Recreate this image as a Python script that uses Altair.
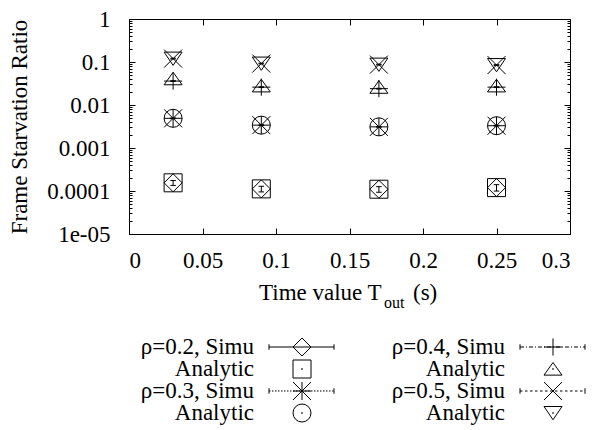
import altair as alt
import pandas as pd

# ------------------------------------------------------------------ data
T_OUT = [0.03, 0.09, 0.17, 0.25]

SIMU_02 = [1.55e-4, 1.12e-4, 1.10e-4, 1.20e-4]
ANA_02 = [1.55e-4, 1.12e-4, 1.10e-4, 1.20e-4]
ERR_02 = [0.13, 0.15, 0.15, 0.17]  # relative half-width of the simulation interval

SIMU_03 = [0.0049, 0.0034, 0.0031, 0.0033]
ANA_03 = [0.0049, 0.0034, 0.0031, 0.0033]
ERR_03 = [0.02, 0.02, 0.02, 0.02]

SIMU_04 = [0.036, 0.026, 0.024, 0.026]
ANA_04 = [0.041, 0.028, 0.026, 0.028]
ERR_04 = [0.02, 0.02, 0.02, 0.02]

SIMU_05 = [0.120, 0.092, 0.087, 0.085]
ANA_05 = [0.120, 0.092, 0.087, 0.085]
ERR_05 = [0.02, 0.02, 0.02, 0.02]

RHOS = ["0.2", "0.3", "0.4", "0.5"]
SIMU_MARKERS = ["diamond", "asterisk", "plus", "cross"]
ANA_MARKERS = ["square", "circle", "tri-up", "tri-down"]

X_TICKS = [0, 0.05, 0.1, 0.15, 0.2, 0.25, 0.3]
Y_TICKS = [1, 0.1, 0.01, 0.001, 0.0001, 0.00001]
Y_TICK_LABELS = ["1", "0.1", "0.01", "0.001", "0.0001", "1e-05"]
Y_MINOR = [m * 10.0 ** e for e in range(-5, 0) for m in range(2, 10)]

LEGEND_LABELS = ["ρ=0.2, Simu", "Analytic", "ρ=0.3, Simu", "Analytic",
                 "ρ=0.4, Simu", "Analytic", "ρ=0.5, Simu", "Analytic"]

# ------------------------------------------------------------------ style
FONT = "Liberation Serif, Times New Roman, Times, serif"
FS = 23
PLOT_W = 441
PLOT_H = 215

SHAPE_DOMAIN = ["diamond", "square", "asterisk", "circle", "plus", "tri-up", "cross", "tri-down"]
SHAPE_RANGE = [
    "diamond",
    "square",
    "M-1,0L1,0M0,-1L0,1M-1,-1L1,1M-1,1L1,-1",
    "circle",
    "M-1,0L1,0M0,-0.95L0,0.95",
    "M0,-0.72L1,0.68L-1,0.68Z",
    "M-1,-1L1,1M-1,1L1,-1",
    "M-1,-0.72L1,-0.72L0,0.75Z",
]
DASHES = [[1, 0], [1.5, 1.5], [4, 2, 1, 2], [2.5, 2.5]]

# ------------------------------------------------------------------ tables
sim_rows, ana_rows = [], []
series = [(RHOS[0], SIMU_02, ANA_02, ERR_02), (RHOS[1], SIMU_03, ANA_03, ERR_03),
          (RHOS[2], SIMU_04, ANA_04, ERR_04), (RHOS[3], SIMU_05, ANA_05, ERR_05)]
for i, (rho, sv, av, ev) in enumerate(series):
    for t, s, a, e in zip(T_OUT, sv, av, ev):
        sim_rows.append({"t": t, "v": s, "lo": s * (1 - e), "hi": s * (1 + e),
                         "marker": SIMU_MARKERS[i], "rho": rho})
        ana_rows.append({"t": t, "v": a, "marker": ANA_MARKERS[i], "rho": rho})
sim_df = pd.DataFrame(sim_rows)
ana_df = pd.DataFrame(ana_rows)

leg_rows = []
for k, lab in enumerate(LEGEND_LABELS):
    ser = k // 2
    leg_rows.append({"label": lab, "col": ser // 2, "row": (ser % 2) * 2 + k % 2,
                     "simu": k % 2 == 0,
                     "marker": SIMU_MARKERS[ser] if k % 2 == 0 else ANA_MARKERS[ser],
                     "rho": RHOS[ser]})
leg_df = pd.DataFrame(leg_rows)

# ------------------------------------------------------------------ scales / axes
xs = alt.Scale(domain=[0, 0.3], nice=False, zero=False)
ys = alt.Scale(type="log", domain=[1e-5, 1], nice=False)
shape_scale = alt.Scale(domain=SHAPE_DOMAIN, range=SHAPE_RANGE)

label_expr = " : ".join(
    f"datum.value > {v / 2} ? '{l}'" for v, l in zip(Y_TICKS[:-1], Y_TICK_LABELS[:-1])
) + f" : '{Y_TICK_LABELS[-1]}'"

ax_bottom = alt.Axis(orient="bottom", values=X_TICKS, format="~g", offset=-6, tickSize=6,
                     labelPadding=15, title=None)
ax_top = alt.Axis(orient="top", values=X_TICKS, offset=-6, tickSize=6, labels=False, title=None)
ay_left = alt.Axis(orient="left", values=Y_TICKS, labelExpr=label_expr, offset=-6, tickSize=6,
                   labelPadding=19, title="Frame Starvation Ratio", titlePadding=15)
ay_left_minor = alt.Axis(orient="left", values=Y_MINOR, offset=-3, tickSize=3, labels=False, title=None)
ay_right = alt.Axis(orient="right", values=Y_TICKS, offset=-6, tickSize=6, labels=False, title=None)
ay_right_minor = alt.Axis(orient="right", values=Y_MINOR, offset=-3, tickSize=3, labels=False, title=None)

# ------------------------------------------------------------------ main plot
err_rule = alt.Chart(sim_df).mark_rule(color="black", strokeWidth=1).encode(
    x=alt.X("t:Q", scale=xs, axis=ax_bottom),
    y=alt.Y("lo:Q", scale=ys, axis=ay_left),
    y2="hi:Q",
)
err_caps = alt.Chart(sim_df).transform_fold(["lo", "hi"], as_=["end", "ev"]).mark_point(
    shape="M-1,0L1,0", size=30, filled=False, color="black", strokeWidth=1, opacity=1
).encode(
    x=alt.X("t:Q", scale=xs, axis=ax_top),
    y=alt.Y("ev:Q", scale=ys, axis=ay_left_minor),
)
sim_pts = alt.Chart(sim_df).mark_point(filled=False, size=324, color="black", strokeWidth=1, opacity=1).encode(
    x=alt.X("t:Q", scale=xs, axis=None),
    y=alt.Y("v:Q", scale=ys, axis=ay_right),
    shape=alt.Shape("marker:N", scale=shape_scale, legend=None),
)
ana_pts = alt.Chart(ana_df).mark_point(filled=False, size=324, color="black", strokeWidth=1, opacity=1).encode(
    x=alt.X("t:Q", scale=xs, axis=None),
    y=alt.Y("v:Q", scale=ys, axis=ay_right_minor),
    shape=alt.Shape("marker:N", scale=shape_scale, legend=None),
)
main = alt.layer(err_rule, err_caps, sim_pts, ana_pts).resolve_axis(x="independent", y="independent")

# ------------------------------------------------------------------ legend (key below the plot)
COL_STEP = 251
TEXT_END = 125
LINE_START = 140
LINE_END = 205
MARK_X = 173
leg_x = alt.Scale(domain=[0, PLOT_W], nice=False, zero=False)
leg_y = alt.Scale(domain=[0, 3], range=[328, 394], nice=False, zero=False)

leg_base = alt.Chart(leg_df).transform_calculate(
    tx=f"datum.col * {COL_STEP} + {TEXT_END}",
    x1=f"datum.col * {COL_STEP} + {LINE_START}",
    x2=f"datum.col * {COL_STEP} + {LINE_END}",
    mx=f"datum.col * {COL_STEP} + {MARK_X}",
)
leg_text = leg_base.mark_text(align="right", baseline="middle", font=FONT, fontSize=FS, color="black").encode(
    x=alt.X("tx:Q", scale=leg_x, axis=None),
    y=alt.Y("row:Q", scale=leg_y, axis=None),
    text="label:N",
)
leg_line = leg_base.transform_filter("datum.simu").mark_rule(color="black", strokeWidth=1).encode(
    x=alt.X("x1:Q", scale=leg_x, axis=None),
    x2="x2:Q",
    y=alt.Y("row:Q", scale=leg_y, axis=None),
    strokeDash=alt.StrokeDash("rho:N", scale=alt.Scale(domain=RHOS, range=DASHES), legend=None),
)
leg_caps = leg_base.transform_filter("datum.simu").transform_fold(["x1", "x2"], as_=["end", "cx"]).mark_point(
    shape="M0,-1L0,1", size=30, filled=False, color="black", strokeWidth=1, opacity=1
).encode(
    x=alt.X("cx:Q", scale=leg_x, axis=None),
    y=alt.Y("row:Q", scale=leg_y, axis=None),
)
leg_marks = leg_base.mark_point(filled=False, size=324, color="black", strokeWidth=1, opacity=1).encode(
    x=alt.X("mx:Q", scale=leg_x, axis=None),
    y=alt.Y("row:Q", scale=leg_y, axis=None),
    shape=alt.Shape("marker:N", scale=shape_scale, legend=None),
)
leg_dots = leg_base.transform_filter("!datum.simu").mark_point(
    shape="square", filled=True, size=2, color="black", opacity=1
).encode(
    x=alt.X("mx:Q", scale=leg_x, axis=None),
    y=alt.Y("row:Q", scale=leg_y, axis=None),
)
legend = alt.layer(leg_text, leg_line, leg_caps, leg_marks, leg_dots)

# ------------------------------------------------------------------ x-axis title with subscript
one = pd.DataFrame({"k": [0]})
t1 = alt.Chart(one).mark_text(text="Time value T", align="left", baseline="alphabetic",
                              font=FONT, fontSize=FS, color="black").encode(
    x=alt.value(130), y=alt.value(281))
t2 = alt.Chart(one).mark_text(text="out", align="left", baseline="alphabetic",
                              font=FONT, fontSize=16, color="black").encode(
    x=alt.value(255), y=alt.value(289))
t3 = alt.Chart(one).mark_text(text="(s)", align="left", baseline="alphabetic",
                              font=FONT, fontSize=FS, color="black").encode(
    x=alt.value(284), y=alt.value(281))

chart = alt.layer(main, legend, t1, t2, t3).resolve_scale(
    x="independent", y="independent"
).properties(
    width=PLOT_W, height=PLOT_H,
    padding={"left": 0, "top": 0, "right": 0, "bottom": 0},
    background="white",
).configure(
    font=FONT
).configure_text(
    font=FONT
).configure_view(
    stroke="black", strokeWidth=1
).configure_axis(
    labelFont=FONT, labelFontSize=FS, labelColor="black",
    titleFont=FONT, titleFontSize=FS, titleFontWeight="normal", titleColor="black",
    tickColor="black", tickWidth=1, grid=False, domain=False,
)

chart.save("out.html", embed_options={"renderer": "svg", "actions": False})
